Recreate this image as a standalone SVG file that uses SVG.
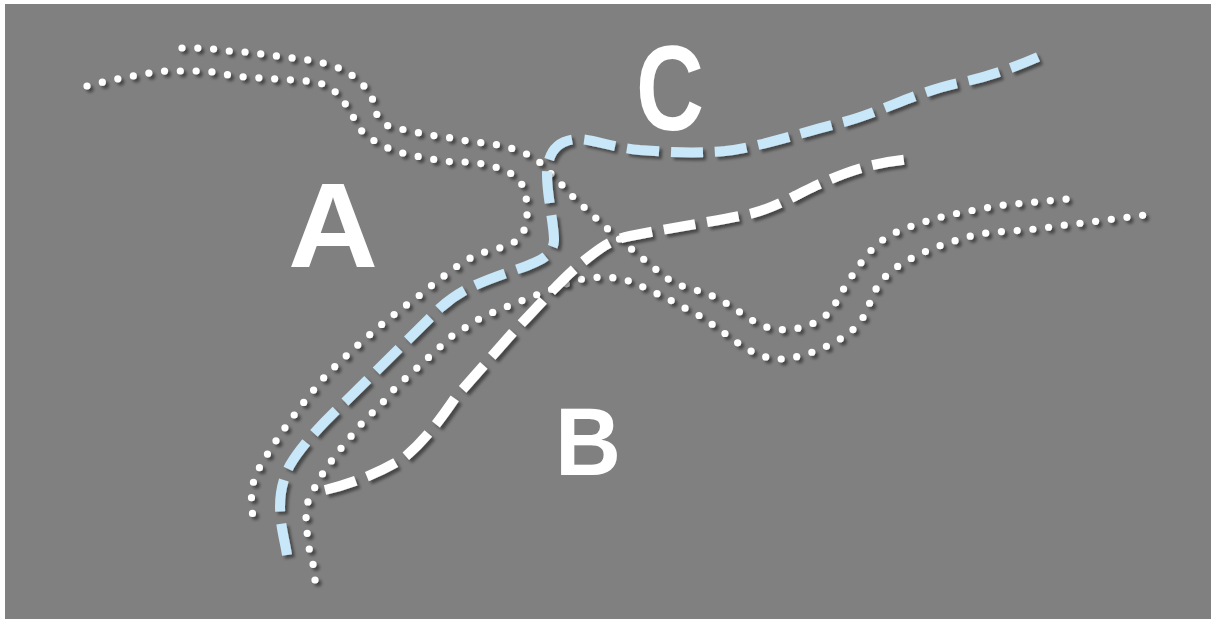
<svg xmlns="http://www.w3.org/2000/svg" width="1211" height="619" viewBox="0 0 1211 619">
<defs>
<filter id="sh" x="-10%" y="-10%" width="120%" height="120%">
<feDropShadow dx="3" dy="3" stdDeviation="1.8" flood-color="#000" flood-opacity="0.45"/>
</filter>
<style>
.dots{fill:none;stroke:#fff;stroke-width:7.2;stroke-linecap:round;stroke-dasharray:0 15.8;filter:url(#sh)}
.dash{fill:none;stroke-width:10;stroke-linecap:butt;stroke-dasharray:32 12;filter:url(#sh)}
.blue{stroke:#c8e7f9}
.white{stroke:#fff}
.lbl{font-family:"Liberation Sans",Arial,sans-serif;font-weight:bold;fill:#fff}
</style>
</defs>
<rect width="1211" height="619" fill="#fff"/>
<rect x="5" y="4" width="1206" height="615" fill="#808080"/>
<g id="connectors">
<polyline id="dot1" class="dots" points="182,48 197,48 213,49 229,51 245,52 261,54 277,56 293,58 308,60 323,63 339,68 353,76 365,87 373,100 377,115 388,126 405,130 420,133 436,136 452,138 467,141 483,143 499,145 514,149 529,155 542,164 553,176 564,187 575,199 587,210 599,221 610,231 623,242 635,252 647,262 659,272 672,282 687,288 703,292 717,298 731,306 744,315 758,324 772,329 788,330 804,327 819,321 831,311 839,297 847,283 856,270 865,257 876,245 888,236 903,229 918,224 933,219 949,215 964,212 980,209 996,206 1012,204 1027,203 1043,201 1059,200 1075,198"/>
<polyline id="dot2" class="dots" points="87,86 103,82 117,79 133,76 149,73 165,71 181,71 197,71 213,72 229,75 245,77 261,78 277,79 293,80 308,81 323,84 337,93 347,106 355,120 363,133 376,142 390,149 406,154 421,157 437,160 453,162 468,162 484,164 499,168 514,175 524,187 527,203 527,218 523,234 512,244 496,249 481,253 466,260 453,269 440,279 427,289 415,299 402,308 390,318 377,328 365,339 353,349 342,360 330,371 319,383 309,396 299,408 290,421 281,433 272,447 263,461 256,474 251,490 252,506 253,522"/>
<polyline id="dot3" class="dots" points="315,580 313,564 309,548 307,532 306,517 308,501 315,487 323,473 332,460 342,447 352,435 362,423 373,412 384,401 395,388 407,377 418,367 430,356 442,345 453,335 468,326 482,317 496,311 511,305 526,299 541,293 556,288 571,282 586,278 602,277 617,278 633,282 647,289 662,296 676,303 690,311 704,318 717,328 730,337 743,347 757,354 772,359 788,359 803,355 819,350 833,343 847,335 859,324 867,311 872,296 880,282 891,271 904,262 918,255 933,248 948,243 963,238 979,234 995,232 1011,231 1027,230 1043,228 1058,226 1074,224 1090,222 1106,220 1122,218 1137,216 1153,214"/>
<path id="route-b" class="dash white" d="M325,490 C355,483 385,470 405,457 C425,440 440,420 455,398 L515,330 C540,305 560,280 585,260 C600,248 610,240 630,236 C670,228 710,222 745,215 C770,210 790,198 815,186 C840,175 865,163 912,159"/>
<path id="route-c" class="dash blue" d="M287,555 C283,530 272,500 290,465 C300,448 320,425 345,402 L440,308 C460,290 480,282 512,271 C535,263 553,258 554,240 C554,225 547,195 547,175 C547,152 558,139 580,139 C600,141 610,147 640,150 C680,153 700,153 725,151 C760,147 800,133 840,123 C880,113 920,90 963,82 C990,76 1015,67 1038,57"/>
</g>
<g id="node-a"><text class="lbl" x="288" y="267" font-size="121" textLength="90" lengthAdjust="spacingAndGlyphs">A</text></g>
<g id="node-b"><text class="lbl" x="555" y="475" font-size="96" textLength="66" lengthAdjust="spacingAndGlyphs">B</text></g>
<g id="node-c"><text class="lbl" x="636" y="130" font-size="120" textLength="68" lengthAdjust="spacingAndGlyphs">C</text></g>
</svg>
